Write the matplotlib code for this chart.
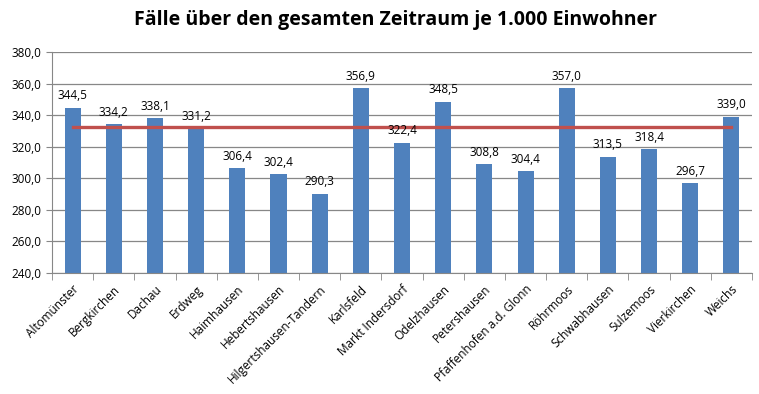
import numpy as np
import matplotlib
matplotlib.use("Agg")
import matplotlib.pyplot as plt

gemeinden = ["Altomünster", "Bergkirchen", "Dachau", "Erdweg", "Haimhausen",
             "Hebertshausen", "Hilgertshausen-Tandern", "Karlsfeld",
             "Markt Indersdorf", "Odelzhausen", "Petershausen",
             "Pfaffenhofen a.d. Glonn", "Röhrmoos", "Schwabhausen",
             "Sulzemoos", "Vierkirchen", "Weichs"]
faelle = [344.5, 334.2, 338.1, 331.2, 306.4, 302.4, 290.3, 356.9, 322.4,
          348.5, 308.8, 304.4, 357.0, 313.5, 318.4, 296.7, 339.0]
durchschnitt = 332.6

plt.rcParams["font.family"] = ["Open Sans", "DejaVu Sans"]

fig = plt.figure(figsize=(7.59, 3.94), dpi=100)
ax = fig.add_axes([52 / 759, 1 - 273 / 394, 700 / 759, 221 / 394])

x = np.arange(len(gemeinden))
ax.bar(x, faelle, width=0.39, color="#4F81BD", zorder=2)
ax.plot(x, [durchschnitt] * len(x), color="#C0504D", lw=2.4, zorder=3)

for xi, v in zip(x, faelle):
    ax.annotate(f"{v:.1f}".replace(".", ","), (xi, v), xytext=(0, 4),
                textcoords="offset points", ha="center", va="bottom",
                fontsize=8.5)

ax.set_xlim(-0.5, len(x) - 0.5)
ax.set_ylim(240, 380)
yt = np.arange(240, 381, 20)
ax.set_yticks(yt)
ax.set_yticklabels([f"{v:.1f}".replace(".", ",") for v in yt], fontsize=8.5)
ax.yaxis.grid(True, color="#878787", lw=0.9, zorder=0)
ax.set_axisbelow(True)

ax.set_xticks(x)
ax.set_xticklabels(gemeinden, rotation=45, ha="right", rotation_mode="anchor",
                   fontsize=8.5)
ax.tick_params(axis="x", length=0, pad=7)
ax.set_xticks(np.arange(-0.5, len(x)), minor=True)
ax.tick_params(axis="x", which="minor", length=5, color="#878787")
ax.tick_params(axis="y", length=4, color="#878787")

for s in ["top", "right"]:
    ax.spines[s].set_visible(False)
for s in ["left", "bottom"]:
    ax.spines[s].set_color("#878787")

fig.text(395 / 759, 1 - 20 / 394, "Fälle über den gesamten Zeitraum je 1.000 Einwohner",
         ha="center", va="center", fontsize=14, fontweight="bold")

fig.savefig("out.png", dpi=100)
